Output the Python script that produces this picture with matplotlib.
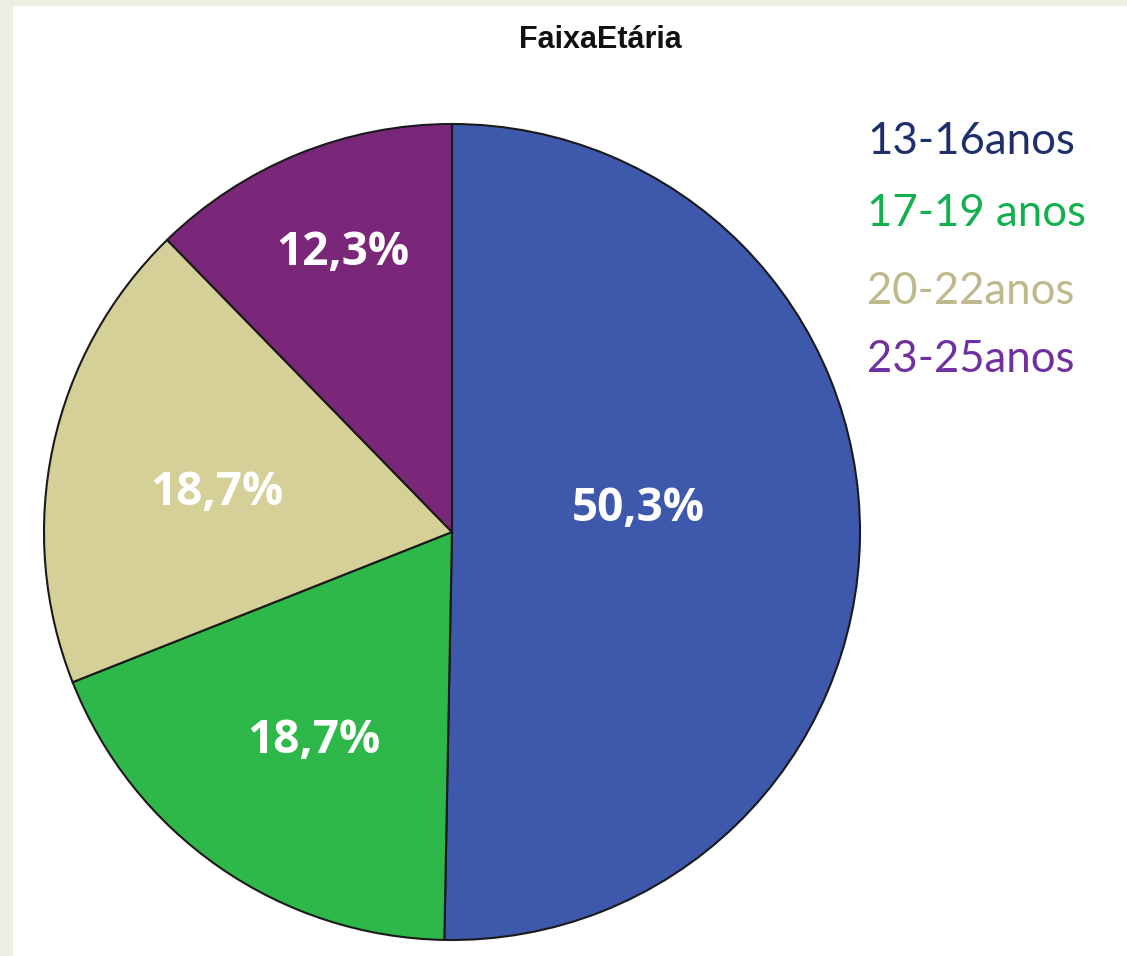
import numpy as np
import matplotlib
matplotlib.use("Agg")
import matplotlib.pyplot as plt

# data
categories = ["13-16anos", "17-19 anos", "20-22anos", "23-25anos"]
values = [50.3, 18.7, 18.7, 12.3]
pct_labels = ["50,3%", "18,7%", "18,7%", "12,3%"]
slice_colors = ["#3E58AC", "#2EB84A", "#D5CF98", "#7B2779"]
legend_colors = ["#1F2F6B", "#13B050", "#BFB88A", "#7030A0"]
title = "FaixaEtária"

W, H = 1127, 956
fig = plt.figure(figsize=(W / 100, H / 100), dpi=100)
fig.patch.set_facecolor("#EEEDE4")

ax = fig.add_axes([13 / W, 0, 1 - 13 / W, 1 - 6 / H])
ax.set_facecolor("white")
ax.set_xticks([])
ax.set_yticks([])
for s in ax.spines.values():
    s.set_visible(False)

cx, cy, r = 452, H - 532, 408
wedges, _ = ax.pie(values, colors=slice_colors, startangle=90, counterclock=False,
                   center=(cx, cy), radius=r, frame=True,
                   wedgeprops=dict(edgecolor="#1a1a1a", linewidth=1.5))
ax.set_xlim(13, W)
ax.set_ylim(0, H - 6)
ax.set_aspect("equal")
ax.set_xticks([])
ax.set_yticks([])

# label placement like the original (radius fraction, angle shift)
lab_rad = [0.46, 0.61, 0.585, 0.74]
lab_shift = [8.5, 1.0, 2.0, -1.0]
for w, t, rf, sh in zip(wedges, pct_labels, lab_rad, lab_shift):
    ang = np.deg2rad((w.theta1 + w.theta2) / 2 + sh)
    ax.text(cx + rf * r * np.cos(ang), cy + rf * r * np.sin(ang) - 2, t,
            ha="center", va="center", color="white", fontsize=33,
            fontweight="bold", family="Open Sans")

ax.text(600, H - 40, title, ha="center", va="center", fontsize=22,
        fontweight="bold", family="Liberation Sans", color="#111111")

leg_y = [142, 213, 292, 360]
for name, col, y in zip(categories, legend_colors, leg_y):
    ax.text(867, H - y, name, ha="left", va="center", fontsize=31.5,
            color=col, family="Lato")

fig.savefig("out.png", dpi=100, facecolor=fig.get_facecolor())
